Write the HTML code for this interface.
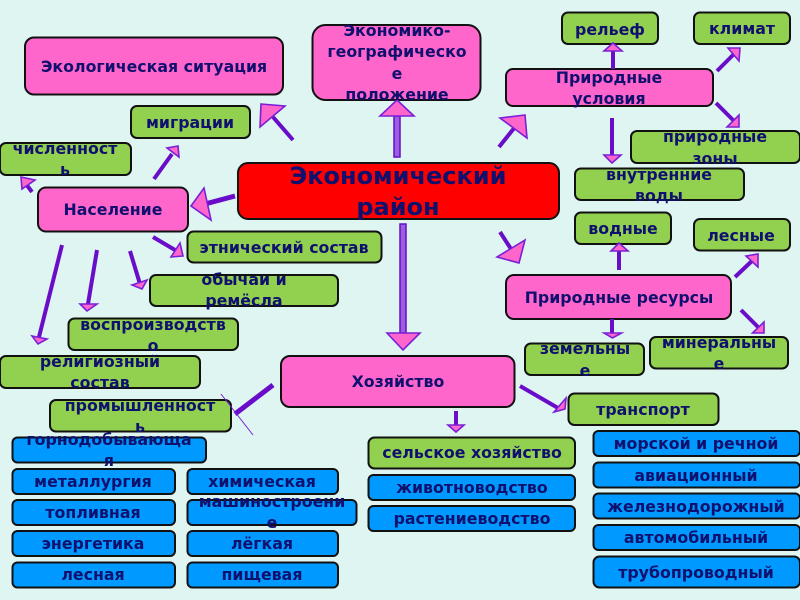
<!DOCTYPE html>
<html><head><meta charset="utf-8"><style>
html,body{margin:0;padding:0;background:#def5f2}
svg{display:block}
.b{stroke:#111;stroke-width:2}
.p{fill:#ff66cc}.g{fill:#92d050}.u{fill:#0099ff}
text{font-family:"DejaVu Sans","Liberation Sans",sans-serif;font-weight:bold;font-size:15.8px;fill:#10106e;text-anchor:middle}
.l{stroke:#6a0dc8;stroke-width:4;fill:none}
.h{stroke:#7a1fd8;stroke-width:1.6;fill:#ff66cc;stroke-linejoin:miter}
</style></head><body>
<svg width="800" height="600" viewBox="0 0 800 600" xmlns="http://www.w3.org/2000/svg">
<rect width="800" height="600" fill="#def5f2"/>
<g class="b">
<rect class="p" x="25" y="37.500" width="258" height="57" rx="9"/>
<rect class="p" x="312.500" y="25" width="168" height="75" rx="13"/>
<rect class="g" x="131" y="106" width="119" height="32" rx="6"/>
<rect class="g" x="0" y="143" width="131" height="32" rx="6"/>
<rect class="p" x="38" y="187.500" width="150" height="44" rx="8"/>
<rect fill="#ff0000" x="238" y="163" width="321" height="56" rx="10"/>
<rect class="g" x="187.500" y="231.500" width="194" height="31" rx="6"/>
<rect class="g" x="150" y="275" width="188" height="31" rx="6"/>
<rect class="g" x="562" y="12.500" width="96" height="31.500" rx="6"/>
<rect class="g" x="694" y="12.500" width="96" height="31.500" rx="6"/>
<rect class="p" x="506" y="69" width="207" height="37" rx="7"/>
<rect class="g" x="631" y="131" width="169" height="32" rx="6"/>
<rect class="g" x="575" y="168.500" width="169" height="31.500" rx="6"/>
<rect class="g" x="575" y="212.500" width="96" height="31.500" rx="6"/>
<rect class="g" x="694" y="219" width="96" height="31.500" rx="6"/>
<rect class="p" x="506" y="275" width="225" height="44" rx="8"/>
<rect class="g" x="525" y="343.500" width="119" height="31.500" rx="6"/>
<rect class="g" x="650" y="337" width="138" height="31.500" rx="6"/>
<rect class="g" x="568.500" y="393.500" width="150" height="31.500" rx="6"/>
<rect class="p" x="281" y="356" width="233.500" height="51" rx="9"/>
<rect class="g" x="68.500" y="318.500" width="169.500" height="31.500" rx="6"/>
<rect class="g" x="0" y="356" width="200" height="32" rx="6"/>
<rect class="g" x="50" y="400" width="181" height="31.500" rx="6"/>
<rect class="u" x="12.500" y="437.500" width="193.500" height="25" rx="5"/>
<rect class="u" x="12.500" y="469" width="162.500" height="25" rx="5"/>
<rect class="u" x="12.500" y="500" width="162.500" height="25" rx="5"/>
<rect class="u" x="12.500" y="531" width="162.500" height="25" rx="5"/>
<rect class="u" x="12.500" y="562.500" width="162.500" height="25" rx="5"/>
<rect class="u" x="187.500" y="469" width="150.500" height="25" rx="5"/>
<rect class="u" x="187.500" y="500" width="169" height="25" rx="5"/>
<rect class="u" x="187.500" y="531" width="150.500" height="25" rx="5"/>
<rect class="u" x="187.500" y="562.500" width="150.500" height="25" rx="5"/>
<rect class="g" x="368.500" y="437.500" width="206.500" height="31" rx="6"/>
<rect class="u" x="368.500" y="475" width="206.500" height="25" rx="5"/>
<rect class="u" x="368.500" y="506" width="206.500" height="25" rx="5"/>
<rect class="u" x="593.500" y="431" width="206.500" height="25" rx="5"/>
<rect class="u" x="593.500" y="462.500" width="206.500" height="25" rx="5"/>
<rect class="u" x="593.500" y="493.500" width="206.500" height="25" rx="5"/>
<rect class="u" x="593.500" y="525" width="206.500" height="25" rx="5"/>
<rect class="u" x="593.500" y="556.500" width="206.500" height="31" rx="6"/>
</g>
<g>
<line class="l" x1="293" y1="140" x2="273" y2="117"/><polygon class="h" points="261,104 285,106 260,127"/>
<line class="l" x1="499" y1="147" x2="515" y2="127"/><polygon class="h" points="525,115 500,118 527,138"/>
<line class="l" style="stroke-width:5" x1="235" y1="196" x2="205" y2="204"/><polygon class="h" points="191,206 204,188 211,220"/>
<line class="l" x1="500" y1="232" x2="511" y2="249"/><polygon class="h" points="525,240 497,257 519,263"/>
<line class="l" x1="154" y1="179" x2="172" y2="154"/><polygon class="h" points="178,146 167,148 179,157"/>
<line class="l" x1="32" y1="192" x2="26" y2="184"/><polygon class="h" points="21,177 35,180 22,189"/>
<line class="l" x1="153" y1="237" x2="175" y2="250"/><polygon class="h" points="183,256 171,257 180,243"/>
<line class="l" x1="130" y1="251" x2="140" y2="284"/><polygon class="h" points="132,285 147,280 142,289"/>
<line class="l" x1="62" y1="245" x2="39" y2="337"/><polygon class="h" points="32,336 47,339 38,344"/>
<line class="l" x1="97" y1="250" x2="88" y2="304"/><polygon class="h" points="80,304 97,304 87,311"/>
<line class="l" x1="613" y1="69" x2="613" y2="51"/><polygon class="h" points="613,43 604,51 622,51"/>
<line class="l" x1="717" y1="71" x2="735" y2="53"/><polygon class="h" points="728,48 740,48 739,61"/>
<line class="l" x1="716" y1="103" x2="735" y2="122"/><polygon class="h" points="739,115 739,127 727,127"/>
<line class="l" x1="612" y1="118" x2="612" y2="155"/><polygon class="h" points="604,155 621,155 612,163"/>
<line class="l" x1="619" y1="270" x2="619" y2="251"/><polygon class="h" points="619,243 611,251 628,251"/>
<line class="l" x1="735" y1="277" x2="754" y2="259"/><polygon class="h" points="746,256 758,254 758,267"/>
<line class="l" x1="612" y1="319" x2="612" y2="333"/><polygon class="h" points="604,333 621.500,333 612.500,338"/>
<line class="l" x1="741" y1="310" x2="759" y2="328"/><polygon class="h" points="764,322 764,333 752.500,333"/>
<line class="l" x1="520" y1="386" x2="558" y2="408"/><polygon class="h" points="566,398 565,409 554,412"/>
<line class="l" x1="456" y1="411" x2="456" y2="425"/><polygon class="h" points="448,425 464,425 456,432"/>
<line class="l" style="stroke-width:5" x1="273" y1="385" x2="235" y2="414"/>
<line x1="221" y1="394" x2="253" y2="435" stroke="#7a1fd8" stroke-width="1"/>
<polygon points="394,157 400,157 400,116 394,116" fill="#9a5fe0" stroke="#6a0dc8" stroke-width="1.500"/>
<polygon class="h" points="397,100 380,116 414,116"/>
<polygon points="400,224 406,224 406,333 400,333" fill="#9a5fe0" stroke="#6a0dc8" stroke-width="1.500"/>
<polygon class="h" points="387,333 420,333 403,350"/>
</g>
<text x="154" y="72">Экологическая ситуация</text>
<text x="397" y="36">Экономико-</text><text x="397" y="57">географическо</text><text x="397" y="79">е</text><text x="397" y="100">положение</text>
<text x="190" y="128">миграции</text>
<text x="65" y="154">численност</text><text x="65" y="175">ь</text>
<text x="113" y="215">Население</text>
<text x="398" y="184" style="font-size:24px">Экономический</text><text x="398" y="215" style="font-size:24px">район</text>
<text x="284" y="253">этнический состав</text>
<text x="244" y="285">обычаи и</text><text x="244" y="306">ремёсла</text>
<text x="610" y="35">рельеф</text><text x="742" y="34">климат</text>
<text x="609" y="83">Природные</text><text x="609" y="104">условия</text>
<text x="715" y="142">природные</text><text x="715" y="164">зоны</text>
<text x="659" y="180">внутренние</text><text x="659" y="201">воды</text>
<text x="623" y="234">водные</text><text x="741" y="241">лесные</text>
<text x="619" y="303">Природные ресурсы</text>
<text x="585" y="354">земельны</text><text x="585" y="376">е</text>
<text x="719" y="348">минеральны</text><text x="719" y="369">е</text>
<text x="643" y="415">транспорт</text>
<text x="398" y="387">Хозяйство</text>
<text x="153" y="330">воспроизводств</text><text x="153" y="351">о</text>
<text x="100" y="367">религиозный</text><text x="100" y="388">состав</text>
<text x="140" y="411">промышленност</text><text x="140" y="432">ь</text>
<text x="109" y="445">горнодобывающа</text><text x="109" y="466">я</text>
<text x="93" y="487">металлургия</text><text x="93" y="518">топливная</text><text x="93" y="549">энергетика</text><text x="93" y="580">лесная</text>
<text x="262" y="487">химическая</text><text x="272" y="507">машиностроени</text><text x="272" y="528">е</text><text x="262" y="549">лёгкая</text><text x="262" y="580">пищевая</text>
<text x="472" y="458">сельское хозяйство</text><text x="472" y="493">животноводство</text><text x="472" y="524">растениеводство</text>
<text x="696" y="449">морской и речной</text><text x="696" y="481">авиационный</text><text x="696" y="512">железнодорожный</text><text x="696" y="543">автомобильный</text><text x="696" y="578">трубопроводный</text>
</svg>
</body></html>
